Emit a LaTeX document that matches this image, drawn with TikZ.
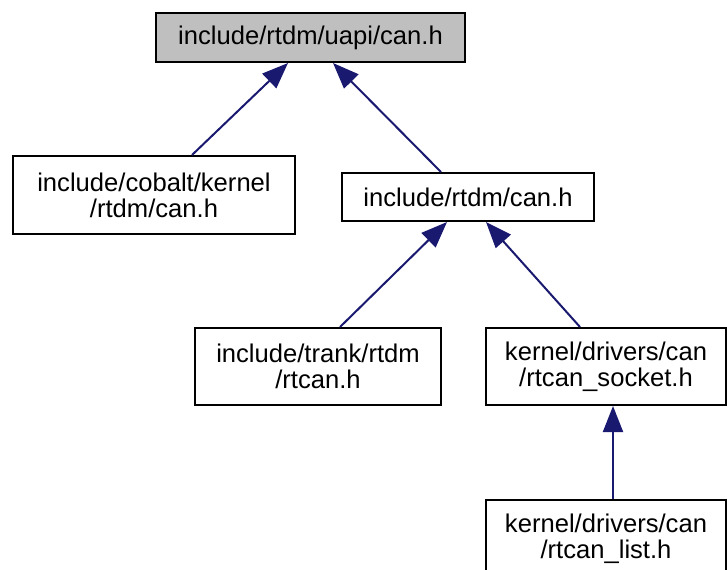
\documentclass[tikz,border=0pt]{standalone}
\usepackage{fontspec}
\setmainfont{Liberation Sans}
\usetikzlibrary{arrows.meta}
\definecolor{edgeblue}{RGB}{25,25,112}
\definecolor{curgray}{RGB}{191,191,191}

\begin{document}
\begin{tikzpicture}[x=0.5pt, y=-0.5pt, font=\fontsize{12.8}{13}\selectfont,
  file/.style={draw=black, line width=1pt, fill=white, align=center, inner sep=0pt},
  dep/.style={draw=edgeblue, line width=1pt, -{Triangle[length=13pt,width=10pt]}}]
		\useasboundingbox (0,0) rectangle (727,569);
		% files
		\node[file, fill=curgray, minimum width=154.5pt, minimum height=24.5pt] (uapi) at (310.5,37.5) {include/rtdm/uapi/can.h};
		\node[file, minimum width=141pt, minimum height=39pt] (cobalt) at (154,195) {include/cobalt/kernel\\/rtdm/can.h};
		\node[file, minimum width=126pt, minimum height=24pt] (rtdm) at (468,197) {include/rtdm/can.h};
		\node[file, minimum width=123pt, minimum height=38.5pt] (trank) at (318,366.5) {include/trank/rtdm\\/rtcan.h};
		\node[file, minimum width=120pt, minimum height=38.5pt] (socket) at (606,366.5) {kernel/drivers/can\\/rtcan\_socket.h};
		\node[file, minimum width=120pt, minimum height=39pt] (list) at (606,539) {kernel/drivers/can\\/rtcan\_list.h};
		% include edges
		\draw[dep] ([xshift=19pt]cobalt.north) -- ([xshift=-11.25pt]uapi.south);
		\draw[dep] ([xshift=-13.5pt]rtdm.north) -- ([xshift=11.25pt]uapi.south);
		\draw[dep] ([xshift=11pt]trank.north) -- ([xshift=-10.5pt]rtdm.south);
		\draw[dep] ([xshift=-13pt]socket.north) -- ([xshift=9pt]rtdm.south);
		\draw[dep] ([xshift=3.5pt]list.north) -- ([xshift=3.5pt]socket.south);
	\end{tikzpicture}
\end{document}
